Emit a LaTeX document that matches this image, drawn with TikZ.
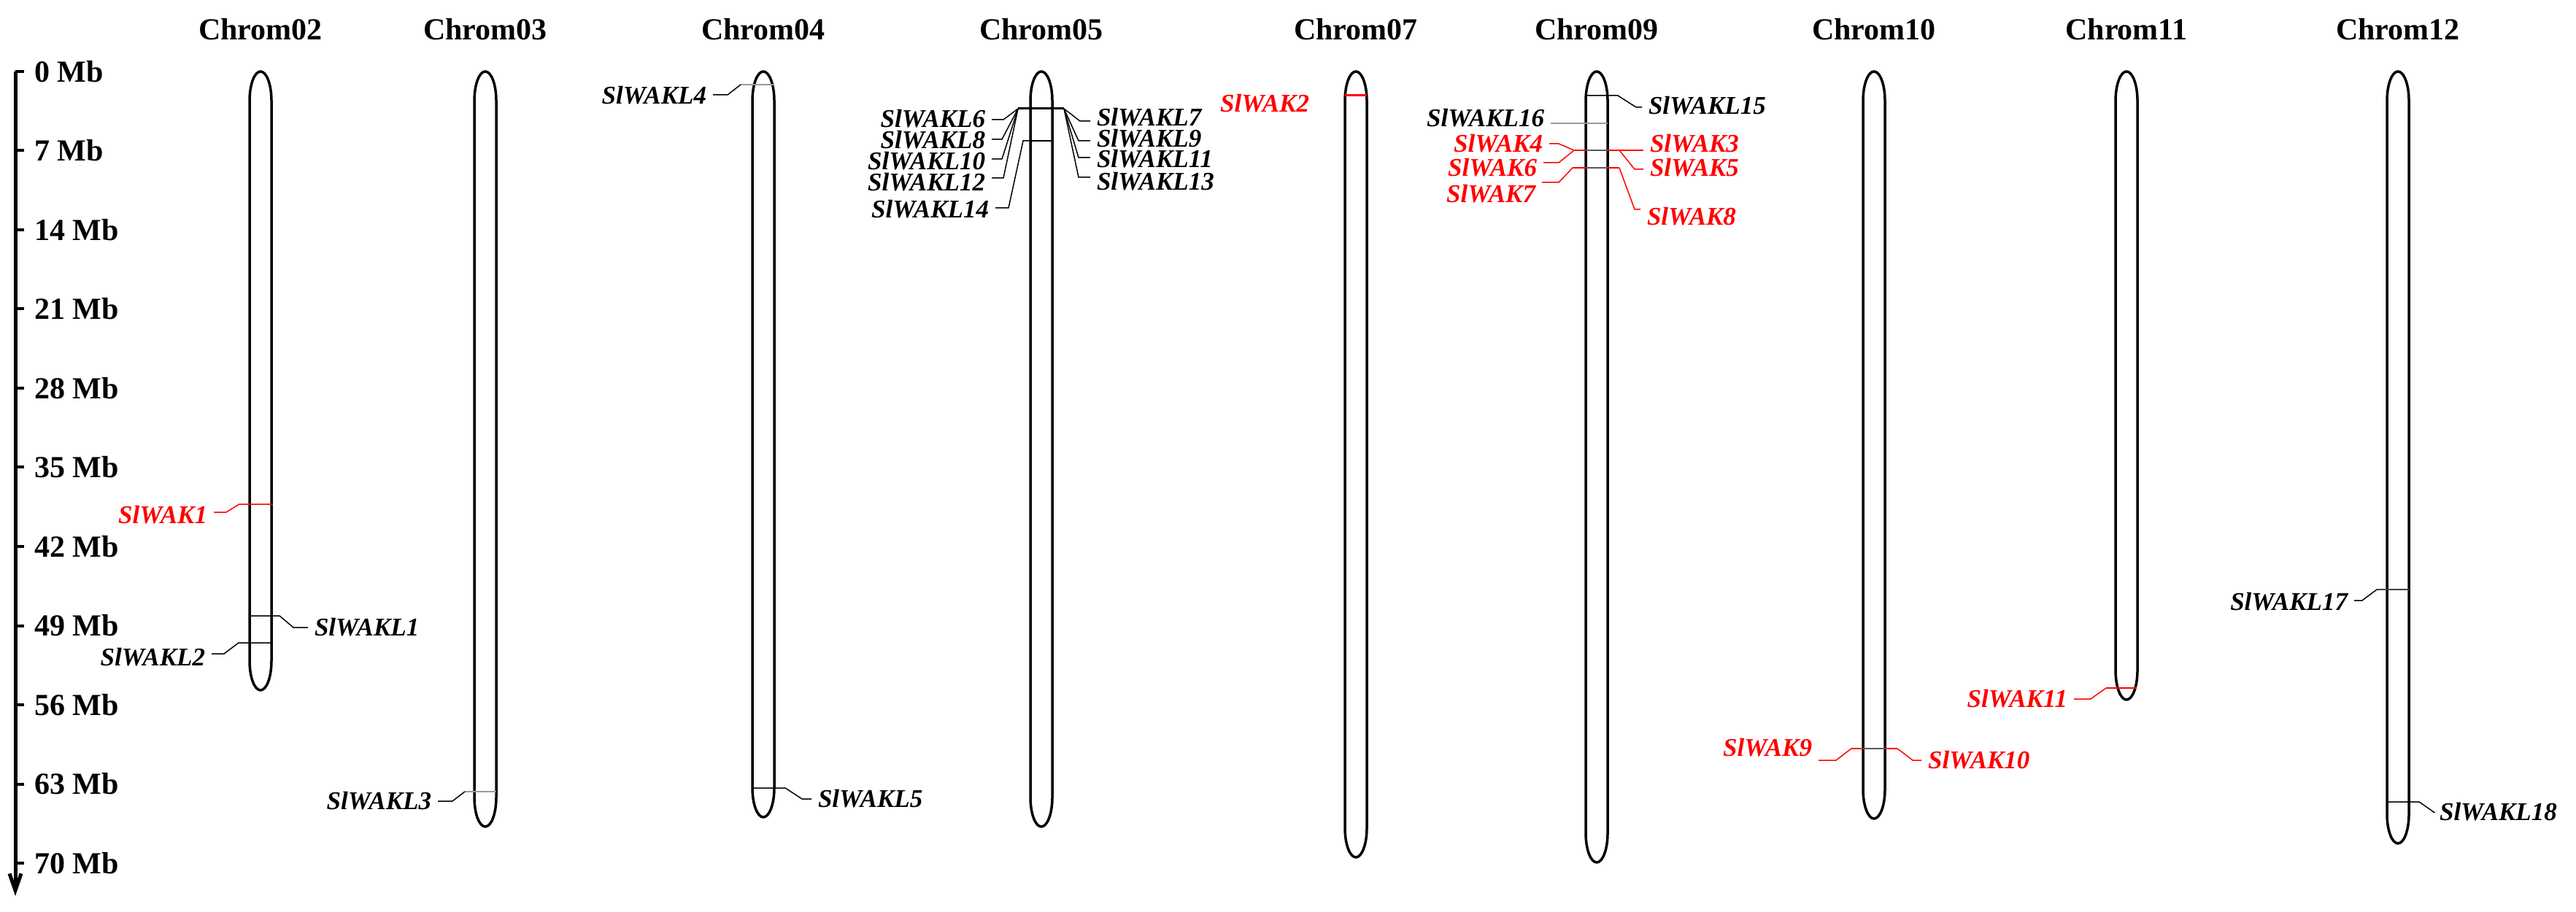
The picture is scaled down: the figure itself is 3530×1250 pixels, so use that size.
\documentclass[tikz,border=0pt]{standalone}
\usepackage{fontspec}
\setmainfont{Liberation Serif}
\usetikzlibrary{arrows.meta}
\newcommand{\drawchromosome}[2]{%
\draw[chromline] ({#1-15},138) -- ({#1-15},{#2-40})
 .. controls ({#1-15},{#2-18}) and ({#1-8.3},#2) .. (#1,#2)
 .. controls ({#1+8.3},#2) and ({#1+15},{#2-18}) .. ({#1+15},{#2-40})
 -- ({#1+15},138)
 .. controls ({#1+15},116) and ({#1+8.3},98) .. (#1,98)
 .. controls ({#1-8.3},98) and ({#1-15},116) .. cycle;}
\begin{document}
\begin{tikzpicture}[x=0.2pt,y=-0.2pt,
  chromline/.style={draw=black,line width=0.7pt},
  chromlab/.style={font=\fontsize{8.4}{10}\selectfont\bfseries,inner sep=0pt,anchor=base},
  axlab/.style={font=\fontsize{8.4}{10}\selectfont\bfseries,inner sep=0pt,anchor=west},
  glab/.style={font=\fontsize{7}{8}\selectfont\bfseries\itshape,inner ysep=0pt,inner xsep=1.6pt},
  redlab/.style={glab,text=red},
  mk/.style={line width=0.4pt,draw=black},
  mkg/.style={line width=0.4pt,draw=black!40},
  mkr/.style={line width=0.4pt,draw=red},
  mkin/.style={line width=0.4pt,draw=black!65},
  conn/.style={line width=0.3pt,draw=black},
  connr/.style={line width=0.3pt,draw=red},
]
\fill[white] (0,0) rectangle (3530,1250);
\useasboundingbox (0,0) rectangle (3530,1250);

% ---- scale axis ----
\draw[line width=1pt,-{Straight Barb[length=4.6pt,width=3.2pt]}] (21,98) -- (21,1228);
\foreach \m in {0,7,...,70}{
  \draw[line width=0.8pt] (21,{98+15.5*\m}) -- (33,{98+15.5*\m});
  \node[axlab] (tick\m) at (46,{98+15.5*\m}) {\m\ Mb};
}

% ---- chromosome titles ----
\node[chromlab] (c02) at (357,55) {Chrom02};
\node[chromlab] (c03) at (665,55) {Chrom03};
\node[chromlab] (c04) at (1046,55) {Chrom04};
\node[chromlab] (c05) at (1427,55) {Chrom05};
\node[chromlab] (c07) at (1858,55) {Chrom07};
\node[chromlab] (c09) at (2188,55) {Chrom09};
\node[chromlab] (c10) at (2568,55) {Chrom10};
\node[chromlab] (c11) at (2914,55) {Chrom11};
\node[chromlab] (c12) at (3286,55) {Chrom12};

% ---- chromosomes ----
\drawchromosome{357}{946}
\drawchromosome{665}{1133}
\drawchromosome{1046}{1120}
\drawchromosome{1427}{1133}
\drawchromosome{1858}{1175}
\drawchromosome{2188}{1182}
\drawchromosome{2568}{1122}
\drawchromosome{2914}{959}
\drawchromosome{3286}{1156}

% ---- Chrom02 ----
\node[redlab,anchor=east] (wak1) at (293,706) {SlWAK1};
\draw[connr] (wak1.east |- 0,702) -- (310,702) -- (328,691) -- (374,691);
\node[glab,anchor=west] (wakl1) at (422,860) {SlWAKL1};
\draw[conn] (342,844) -- (383,844) -- (402,860) -- (wakl1.west |- 0,860);
\node[glab,anchor=east] (wakl2) at (290,901) {SlWAKL2};
\draw[conn] (372,881) -- (327,881) -- (307,896) -- (wakl2.east |- 0,896);

% ---- Chrom03 ----
\node[glab,anchor=east] (wakl3) at (600,1098) {SlWAKL3};
\draw[mkg] (680,1085) -- (637,1085);
\draw[conn] (637,1085) -- (620,1098) -- (wakl3.east |- 0,1098);

% ---- Chrom04 ----
\node[glab,anchor=east] (wakl4) at (977,131) {SlWAKL4};
\draw[mkg] (1061,116) -- (1015,116);
\draw[conn] (1015,116) -- (997,130) -- (wakl4.east |- 0,130);
\node[glab,anchor=west] (wakl5) at (1112,1095) {SlWAKL5};
\draw[conn] (1031,1080) -- (1076,1080) -- (1099,1095) -- (wakl5.west |- 0,1095);

% ---- Chrom05 ----
\draw[line width=0.6pt] (1395,149) -- (1458,149);
\draw[mk] (1412,193) -- (1442,193);
\node[glab,anchor=east] (wakl6) at (1359,163) {SlWAKL6};
\node[glab,anchor=east] (wakl8) at (1359,192) {SlWAKL8};
\node[glab,anchor=east] (wakl10) at (1359,221) {SlWAKL10};
\node[glab,anchor=east] (wakl12) at (1359,250) {SlWAKL12};
\node[glab,anchor=east] (wakl14) at (1364,287) {SlWAKL14};
\draw[conn] (1395,149) -- (1375,164) -- (wakl6.east |- 0,164);
\draw[conn] (1395,149) -- (1373,191) -- (wakl8.east |- 0,191);
\draw[conn] (1395,149) -- (1373,218) -- (wakl10.east |- 0,218);
\draw[conn] (1395,149) -- (1375,244) -- (wakl12.east |- 0,244);
\draw[conn] (1412,193) -- (1402,193) -- (1382,285) -- (wakl14.east |- 0,285);
\node[glab,anchor=west] (wakl7) at (1494,161) {SlWAKL7};
\node[glab,anchor=west] (wakl9) at (1494,190) {SlWAKL9};
\node[glab,anchor=west] (wakl11) at (1494,218) {SlWAKL11};
\node[glab,anchor=west] (wakl13) at (1494,249) {SlWAKL13};
\draw[conn] (1458,149) -- (1480,166) -- (wakl7.west |- 0,166);
\draw[conn] (1458,149) -- (1478,193) -- (wakl9.west |- 0,193);
\draw[conn] (1458,149) -- (1478,216) -- (wakl11.west |- 0,216);
\draw[conn] (1458,149) -- (1478,243) -- (wakl13.west |- 0,243);

% ---- Chrom07 ----
\node[redlab,anchor=east] (wak2) at (1803,142) {SlWAK2};
\draw[red,line width=0.6pt] (1843,131) -- (1873,131);

% ---- Chrom09 ----
\node[glab,anchor=west] (wakl15) at (2250,145) {SlWAKL15};
\draw[conn] (2173,131) -- (2217,131) -- (2242,147) -- (wakl15.west |- 0,147);
\node[glab,anchor=east] (wakl16) at (2125,162) {SlWAKL16};
\draw[mkg] (wakl16.east |- 0,169) -- (2203,169);
\node[redlab,anchor=east] (wak4) at (2123,197) {SlWAK4};
\node[redlab,anchor=east] (wak6) at (2115,230) {SlWAK6};
\node[redlab,anchor=east] (wak7) at (2113,266) {SlWAK7};
\node[redlab,anchor=west] (wak3) at (2252,197) {SlWAK3};
\node[redlab,anchor=west] (wak5) at (2252,230) {SlWAK5};
\node[redlab,anchor=west] (wak8) at (2248,297) {SlWAK8};
\draw[connr] (2157,206) -- (wak3.west |- 0,206);
\draw[mkin] (2173,206) -- (2203,206);
\draw[connr] (2157,206) -- (2136,197) -- (wak4.east |- 0,197);
\draw[connr] (2157,206) -- (2136,223) -- (wak6.east |- 0,223);
\draw[connr] (2219,206) -- (2240,232) -- (wak5.west |- 0,232);
\draw[connr] (2155,230) -- (2219,230);
\draw[mkin] (2173,230) -- (2203,230);
\draw[connr] (2155,230) -- (2136,250) -- (wak7.east |- 0,250);
\draw[connr] (2219,230) -- (2240,287) -- (wak8.west |- 0,287);

% ---- Chrom10 ----
\node[redlab,anchor=east] (wak9) at (2492,1025) {SlWAK9};
\node[redlab,anchor=west] (wak10) at (2633,1042) {SlWAK10};
\draw[connr] (2537,1026) -- (2600,1026);
\draw[mkin] (2553,1026) -- (2583,1026);
\draw[connr] (2537,1026) -- (2516,1042) -- (wak9.east |- 0,1042);
\draw[connr] (2600,1026) -- (2621,1042) -- (wak10.west |- 0,1042);

% ---- Chrom11 ----
\node[redlab,anchor=east] (wak11) at (2842,958) {SlWAK11};
\draw[red,line width=0.5pt] (2928,943) -- (2886,943);
\draw[connr] (2886,943) -- (2865,958) -- (wak11.east |- 0,958);

% ---- Chrom12 ----
\node[glab,anchor=east] (wakl17) at (3226,825) {SlWAKL17};
\draw[line width=0.4pt,draw=black!75] (3301,808) -- (3257,808);
\draw[conn] (3257,808) -- (3237,823) -- (wakl17.east |- 0,823);
\node[glab,anchor=west] (wakl18) at (3334,1113) {SlWAKL18};
\draw[conn] (3271,1099) -- (3315,1099) -- (3335,1113) -- (wakl18.west |- 0,1113);
\end{tikzpicture}
\end{document}
